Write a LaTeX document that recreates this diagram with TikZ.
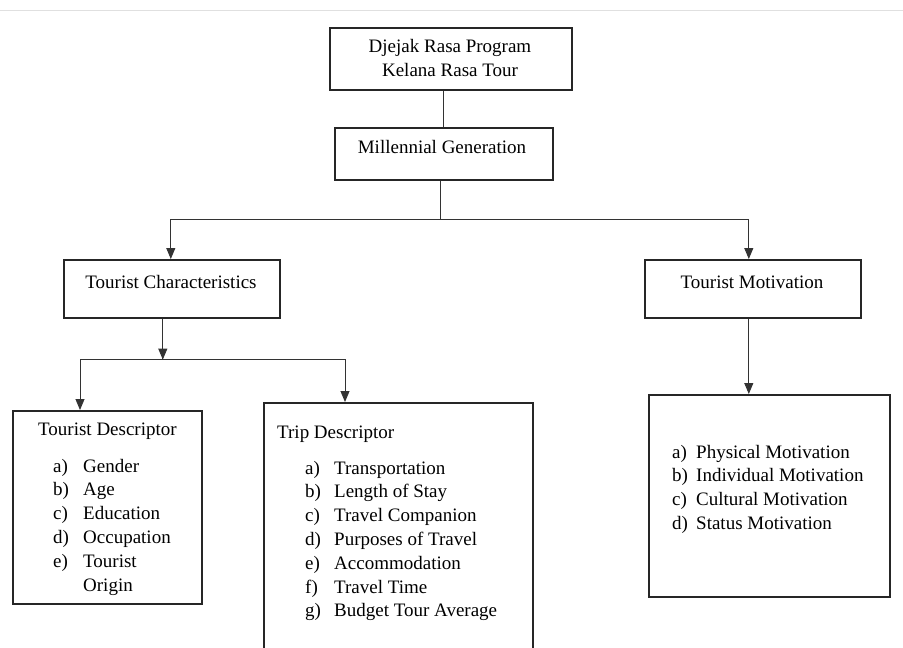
\documentclass[tikz,border=0pt]{standalone}
\usepackage{fontspec}
\setmainfont{Liberation Serif}
\usetikzlibrary{arrows.meta}
\begin{document}
\begin{tikzpicture}[x=1pt,y=-1pt,
  box/.style={draw=black!85, line width=1.6pt, anchor=north west, inner sep=0pt},
  conn/.style={draw=black!80, line width=0.9pt},
  arr/.style={conn, -{Triangle[width=9pt,length=11pt]}},
  txt/.style={anchor=base, inner sep=0pt, font=\fontsize{19}{24}\selectfont},
  lst/.style={anchor=base west, inner sep=0pt, font=\fontsize{19}{23.8}\selectfont, align=left}]
\useasboundingbox[fill=white] (0,0) rectangle (903,648);
\draw[black!12, line width=1pt] (0,10) -- (903,10);
% boxes
\node[box, minimum width=242pt, minimum height=62pt] (prog) at (329,27) {};
\node[box, minimum width=218pt, minimum height=52pt] (mg) at (334,127) {};
\node[box, minimum width=216pt, minimum height=58pt] (tc) at (63,259) {};
\node[box, minimum width=216pt, minimum height=58pt] (tm) at (644,259) {};
\node[box, minimum width=189pt, minimum height=193pt] (td) at (12,410) {};
\node[box, minimum width=269pt, minimum height=262pt] (trd) at (263,402) {};
\node[box, minimum width=241pt, minimum height=202pt] (mot) at (648,394) {};
% texts
\node[txt] (progt1) at (450,52) {Djejak Rasa Program};
\node[txt] (progt2) at (450,76) {Kelana Rasa Tour};
\node[txt] (mgt) at (442,153) {Millennial Generation};
\node[txt] (tct) at (171,288) {Tourist Characteristics};
\node[txt] (tmt) at (752,288) {Tourist Motivation};
\node[lst] (tdt) at (38,435) {Tourist Descriptor};
\node[lst] (tdl) at (53,472) {\begin{tabular}[t]{@{}l@{}l@{}}
\makebox[30pt][l]{a)} & Gender\\
b) & Age\\
c) & Education\\
d) & Occupation\\
e) & Tourist\\
 & Origin
\end{tabular}};
\node[lst] (trdt) at (277,438) {Trip Descriptor};
\node[lst] (trdl) at (305,474) {\begin{tabular}[t]{@{}l@{}l@{}}
\makebox[29pt][l]{a)} & Transportation\\
b) & Length of Stay\\
c) & Travel Companion\\
d) & Purposes of Travel\\
e) & Accommodation\\
f) & Travel Time\\
g) & Budget Tour Average
\end{tabular}};
\node[lst] (motl) at (672,458) {\begin{tabular}[t]{@{}l@{}l@{}}
\makebox[24pt][l]{a)} & Physical Motivation\\
b) & Individual Motivation\\
c) & Cultural Motivation\\
d) & Status Motivation
\end{tabular}};
% connectors
\draw[conn] (mg.north) -- (mg.north |- prog.south);
\draw[conn] ([xshift=-3pt]mg.south) -- ++(0,39) coordinate (j1);
\draw[arr] (j1) -| ([xshift=-1pt]tc.north);
\draw[arr] (j1) -| ([xshift=-4pt]tm.north);
\draw[conn] ([xshift=-9pt]tc.south) -- ++(0,41) coordinate (j2);
\draw[arr] ([xshift=-9pt]tc.south) -- (j2);
\draw[arr] (j2) -| ([xshift=68pt]td.north west);
\draw[arr] (j2) -| ([xshift=82pt]trd.north west);
\draw[arr] ([xshift=-4pt]tm.south) -- ([xshift=-4pt]tm.south |- mot.north);
\end{tikzpicture}
\end{document}
